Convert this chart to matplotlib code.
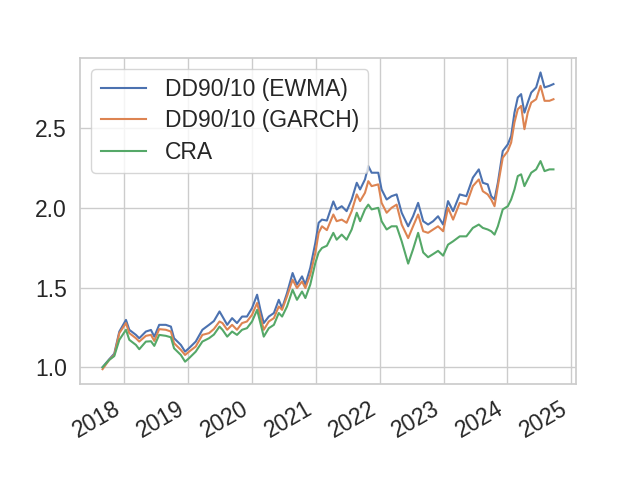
import pandas as pd
import matplotlib
matplotlib.use("Agg")
import matplotlib.pyplot as plt

# values (roughly every 3-4 weeks, plus turning points)
dates = [
    "2017-08-29", "2017-10-06", "2017-11-04", "2017-12-03", "2018-01-10", "2018-01-29",
    "2018-03-08", "2018-03-27", "2018-05-04", "2018-06-02", "2018-06-21", "2018-07-19",
    "2018-08-26", "2018-09-24", "2018-10-12", "2018-11-20", "2018-12-14", "2019-01-06",
    "2019-02-13", "2019-03-23", "2019-04-30", "2019-05-28", "2019-06-29", "2019-07-16",
    "2019-08-12", "2019-09-09", "2019-10-07", "2019-11-05", "2019-12-03", "2020-01-01",
    "2020-01-30", "2020-02-18", "2020-03-08", "2020-04-06", "2020-05-05", "2020-06-02",
    "2020-06-21", "2020-07-19", "2020-08-20", "2020-09-14", "2020-10-13", "2020-11-01",
    "2020-11-29", "2020-12-28", "2021-01-16", "2021-02-04", "2021-03-04", "2021-04-10",
    "2021-04-29", "2021-05-28", "2021-06-25", "2021-07-24", "2021-08-22", "2021-09-10",
    "2021-10-08", "2021-10-27", "2021-11-15", "2021-12-23", "2022-01-11", "2022-02-09",
    "2022-03-09", "2022-04-07", "2022-05-06", "2022-06-12", "2022-07-10", "2022-08-08",
    "2022-09-06", "2022-10-04", "2022-11-02", "2022-11-30", "2022-12-29", "2023-01-26",
    "2023-02-24", "2023-04-03", "2023-05-11", "2023-06-17", "2023-07-21", "2023-08-13",
    "2023-09-10", "2023-09-30", "2023-10-19", "2023-11-07", "2023-12-05", "2024-01-03",
    "2024-01-22", "2024-02-10", "2024-02-29", "2024-03-19", "2024-04-07", "2024-04-26",
    "2024-05-16", "2024-06-13", "2024-07-08", "2024-07-31", "2024-08-28", "2024-09-20",
]

dd_ewma = [
    1.000, 1.050, 1.085, 1.224, 1.297, 1.235, 1.203, 1.182, 1.224, 1.234, 1.192, 1.266,
    1.266, 1.255, 1.182, 1.140, 1.098, 1.120, 1.161, 1.235, 1.266, 1.290, 1.350, 1.318,
    1.266, 1.308, 1.277, 1.318, 1.318, 1.371, 1.455, 1.360, 1.277, 1.318, 1.340, 1.423,
    1.371, 1.465, 1.591, 1.518, 1.570, 1.518, 1.623, 1.780, 1.906, 1.926, 1.920, 2.040,
    1.990, 2.010, 1.979, 2.052, 2.157, 2.115, 2.178, 2.262, 2.220, 2.220, 2.115, 2.052,
    2.073, 2.084, 1.969, 1.884, 1.947, 2.031, 1.916, 1.895, 1.916, 1.947, 1.895, 2.042,
    1.979, 2.084, 2.073, 2.189, 2.241, 2.157, 2.147, 2.073, 2.052, 2.157, 2.356, 2.398,
    2.450, 2.597, 2.692, 2.713, 2.597, 2.660, 2.723, 2.755, 2.849, 2.755, 2.765, 2.776,
]

dd_garch = [
    0.988, 1.046, 1.077, 1.214, 1.277, 1.214, 1.182, 1.161, 1.197, 1.203, 1.165, 1.239,
    1.235, 1.224, 1.151, 1.109, 1.077, 1.098, 1.130, 1.203, 1.214, 1.240, 1.287, 1.277,
    1.235, 1.266, 1.235, 1.277, 1.287, 1.329, 1.403, 1.318, 1.235, 1.287, 1.308, 1.381,
    1.360, 1.444, 1.549, 1.497, 1.538, 1.497, 1.580, 1.717, 1.843, 1.884, 1.860, 1.958,
    1.916, 1.926, 1.906, 1.979, 2.084, 2.042, 2.094, 2.167, 2.136, 2.147, 2.031, 1.969,
    2.000, 2.020, 1.895, 1.810, 1.884, 1.958, 1.853, 1.843, 1.864, 1.884, 1.853, 2.000,
    1.926, 2.031, 2.021, 2.136, 2.178, 2.104, 2.084, 2.052, 2.010, 2.136, 2.314, 2.356,
    2.409, 2.535, 2.618, 2.639, 2.493, 2.597, 2.660, 2.681, 2.765, 2.671, 2.671, 2.681,
]

cra = [
    1.000, 1.046, 1.070, 1.172, 1.235, 1.172, 1.140, 1.113, 1.161, 1.163, 1.134, 1.203,
    1.197, 1.188, 1.119, 1.077, 1.035, 1.057, 1.098, 1.161, 1.182, 1.205, 1.255, 1.235,
    1.192, 1.224, 1.203, 1.235, 1.245, 1.287, 1.360, 1.277, 1.192, 1.245, 1.266, 1.340,
    1.318, 1.381, 1.486, 1.423, 1.475, 1.434, 1.518, 1.654, 1.720, 1.748, 1.762, 1.843,
    1.800, 1.832, 1.800, 1.864, 1.969, 1.916, 1.990, 2.020, 1.990, 2.000, 1.916, 1.864,
    1.884, 1.884, 1.790, 1.650, 1.740, 1.843, 1.720, 1.690, 1.710, 1.730, 1.700, 1.769,
    1.790, 1.821, 1.821, 1.874, 1.895, 1.874, 1.864, 1.853, 1.832, 1.884, 1.990, 2.010,
    2.052, 2.115, 2.199, 2.210, 2.136, 2.178, 2.220, 2.241, 2.293, 2.230, 2.241, 2.241,
]

labels = ["DD90/10 (EWMA)", "DD90/10 (GARCH)", "CRA"]
colors = ["#4C72B0", "#DD8452", "#55A868"]

# seaborn-like whitegrid look, set by hand
plt.rcParams.update({
    "font.family": ["Liberation Sans", "DejaVu Sans"],
    "font.size": 16.5,
    "xtick.labelsize": 16.5,
    "ytick.labelsize": 16.5,
    "legend.fontsize": 16.5,
    "axes.edgecolor": "0.8",
    "axes.linewidth": 1.25,
    "axes.grid": True,
    "axes.axisbelow": True,
    "grid.color": "0.8",
    "grid.linewidth": 1,
    "text.color": "0.15",
    "xtick.color": "0.15",
    "ytick.color": "0.15",
    "xtick.major.size": 6,
    "ytick.major.size": 6,
    "xtick.major.width": 0,
    "ytick.major.width": 0,
    "legend.edgecolor": "0.8",
})

x = pd.to_datetime(dates)

fig, ax = plt.subplots(figsize=(6.4, 4.8), dpi=100)
for series, label, color in zip([dd_ewma, dd_garch, cra], labels, colors):
    ax.plot(x, series, label=label, color=color, linewidth=1.5)

ax.legend(loc="upper left", labelspacing=0.36)
fig.autofmt_xdate()
fig.savefig("out.png")
